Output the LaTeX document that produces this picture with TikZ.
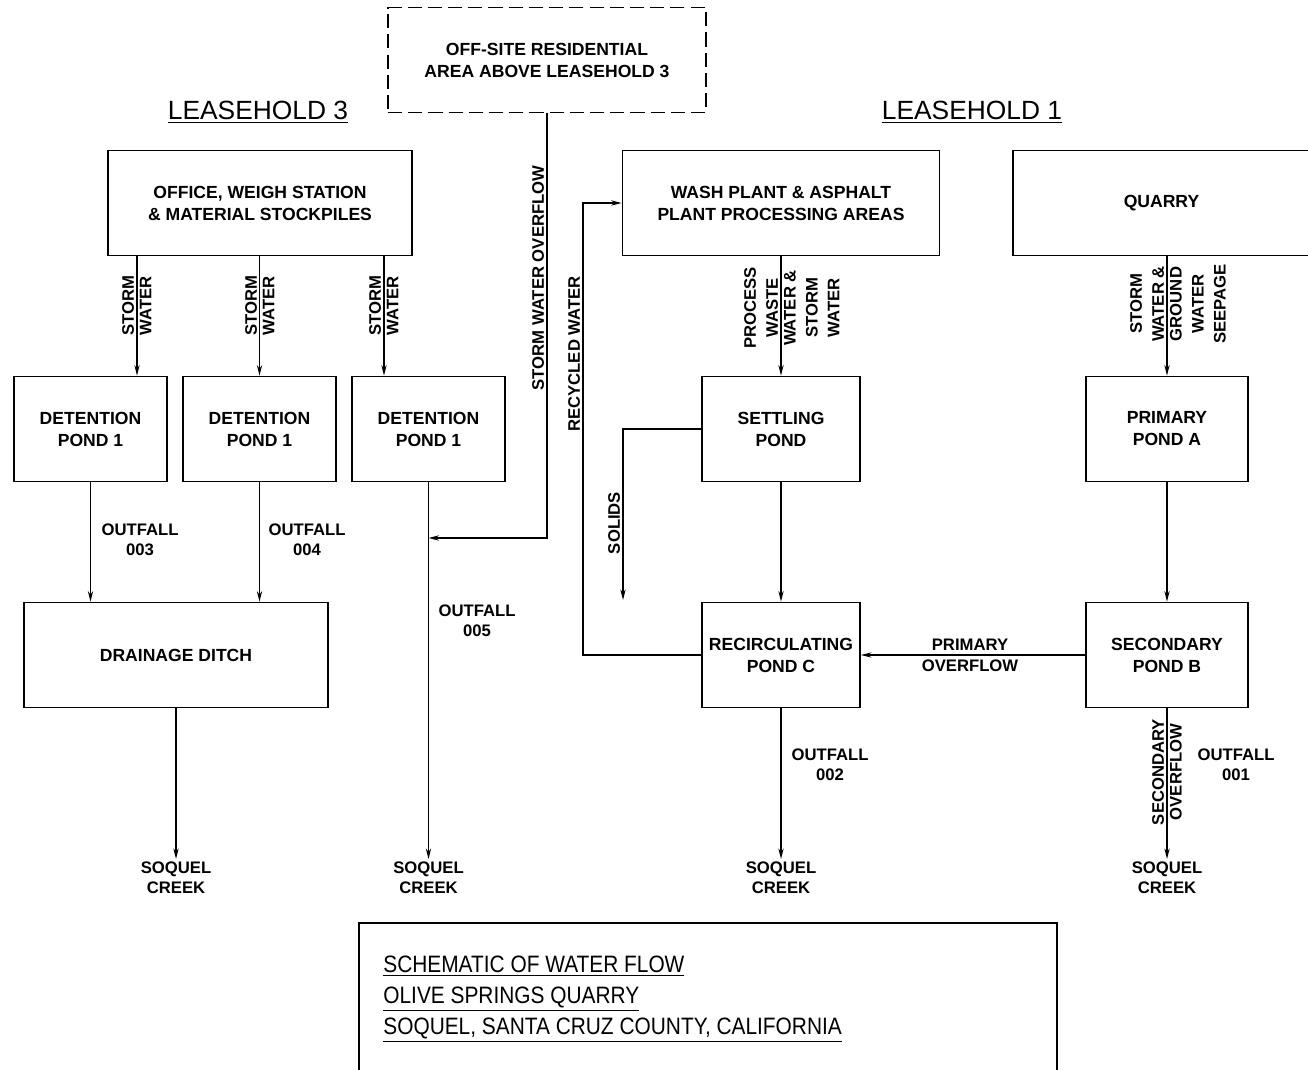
\documentclass[tikz,border=0pt]{standalone}
\usepackage{fontspec}
\setmainfont{Liberation Sans}
\newfontfamily\titlefont[FakeStretch=0.88]{Liberation Sans}
\usepackage{tikz}
\usetikzlibrary{arrows.meta,positioning,calc}

\begin{document}
\begin{tikzpicture}[
  x=0.02cm, y=-0.02cm,
  font=\bfseries\fontsize{10}{12.5}\selectfont,
  >={Stealth[length=6pt,width=3pt]},
  box/.style={draw=black, line width=1pt, align=center, inner sep=2pt,
    minimum width=#1, minimum height=2.1cm},
  offbox/.style={box=#1, dash pattern=on 8pt off 3.5pt},
  flow/.style={->, line width=0.8pt},
  lbl/.style={font=\bfseries\fontsize{9.5}{11.5}\selectfont, align=center, inner sep=1.5pt},
  grp/.style={font=\bfseries\fontsize{9.5}{12.5}\selectfont},
  lside/.style={lbl, rotate=90, anchor=south},
  rside/.style={lbl, rotate=90, anchor=north},
  head/.style={font=\fontsize{15}{18}\selectfont, inner sep=0pt}
]
  \useasboundingbox (0,0) rectangle (1308,1070);

  % top
  \node[offbox=6.36cm] (offsite) at (547,60) {OFF-SITE RESIDENTIAL\\AREA ABOVE LEASEHOLD 3};
  \node[head] (lh3) at (258,112) {\underline{LEASEHOLD 3}};
  \node[head] (lh1) at (972,112) {\underline{LEASEHOLD 1}};

  % leasehold 3 boxes
  \node[box=6.08cm] (office) at (260,203) {OFFICE, WEIGH STATION\\\& MATERIAL STOCKPILES};
  \node[box=3.06cm] (det1) at (90.5,429) {DETENTION\\POND 1};
  \node[box=3.06cm] (det2) at (259.5,429) {DETENTION\\POND 1};
  \node[box=3.06cm] (det3) at (428.5,429) {DETENTION\\POND 1};
  \node[box=6.08cm] (ditch) at (176,655) {DRAINAGE DITCH};

  % leasehold 1 boxes
  \node[box=6.34cm] (wash) at (781,203) {WASH PLANT \& ASPHALT\\PLANT PROCESSING AREAS};
  \node[box=5.94cm] (quarry) at (1161.5,203) {QUARRY};
  \node[box=3.16cm] (settle) at (781,429) {SETTLING\\POND};
  \node[box=3.24cm] (primA) at (1167,429) {PRIMARY\\POND A};
  \node[box=3.16cm] (recirc) at (781,655) {RECIRCULATING\\POND C};
  \node[box=3.24cm] (secB) at (1167,655) {SECONDARY\\POND B};

  % creeks
  \node[lbl] (creekA) at (176,878) {SOQUEL\\CREEK};
  \node[lbl] (creekB) at (428.5,878) {SOQUEL\\CREEK};
  \node[lbl] (creekC) at (781,878) {SOQUEL\\CREEK};
  \node[lbl] (creekD) at (1167,878) {SOQUEL\\CREEK};

  % leasehold 3 flows
  \coordinate (sw1) at (137,256);
  \coordinate (sw3) at (384,256);
  \coordinate (j5) at (428.5,538);
  \draw[flow] (sw1) -- (sw1 |- det1.north);
  \draw[flow] (det2.north |- office.south) -- (det2.north);
  \draw[flow] (sw3) -- (sw3 |- det3.north);
  \draw[flow] (det1.south) -- (det1.south |- ditch.north);
  \draw[flow] (det2.south) -- (det2.south |- ditch.north);
  \draw[flow] (ditch.south) -- (creekA);
  \draw[flow] (det3.south) -- (creekB);
  \draw[flow] (offsite.south) |- (j5);

  \node[lside] (sw1a) at (137,306) {STORM};
  \node[rside] (sw1b) at (137,306) {WATER};
  \node[lside] (sw2a) at (260,306) {STORM};
  \node[rside] (sw2b) at (260,306) {WATER};
  \node[lside] (sw3a) at (384,306) {STORM};
  \node[rside] (sw3b) at (384,306) {WATER};
  \node[lside] (ovfl) at (547,278) {STORM WATER OVERFLOW};
  \node[lbl] (out3) at (140,540) {OUTFALL\\003};
  \node[lbl] (out4) at (307,540) {OUTFALL\\004};
  \node[lbl] (out5) at (477,621) {OUTFALL\\005};

  % leasehold 1 flows
  \coordinate (rc) at (583,655);
  \coordinate (solids) at (623,600);
  \draw[flow] (wash) -- (settle);
  \draw[flow] (settle) -- (recirc);
  \draw[flow] (recirc) -- (creekC);
  \draw[flow] (settle.west) -| (solids);
  \draw[flow] (recirc.west) -- (rc) |- (wash.west);
  \draw[flow] (primA.north |- quarry.south) -- (primA.north);
  \draw[flow] (primA) -- (secB);
  \draw[flow] (secB) -- (recirc);
  \draw[flow] (secB) -- (creekD);

  \node[lside, grp] (pw1) at (781,308) {PROCESS\\WASTE};
  \node[rside, grp] (pw2) at (781,308) {WATER \&\\STORM\\WATER};
  \node[lside, grp] (gw1) at (1167,304) {STORM\\WATER \&};
  \node[rside, grp] (gw2) at (1167,304) {GROUND\\WATER\\SEEPAGE};
  \node[lside] (recy) at (583,354) {RECYCLED WATER};
  \node[lside] (sol) at (623,523) {SOLIDS};
  \node[lbl, anchor=south, inner sep=2.5pt] (povA) at (970,655) {PRIMARY};
  \node[lbl, anchor=north, inner sep=2.5pt] (povB) at (970,655) {OVERFLOW};
  \node[lside] (sovA) at (1167,772) {SECONDARY};
  \node[rside] (sovB) at (1167,772) {OVERFLOW};
  \node[lbl] (out2) at (830,765) {OUTFALL\\002};
  \node[lbl] (out1) at (1236,765) {OUTFALL\\001};

  % title block
  \node[draw=black, line width=1pt, anchor=north west, inner sep=0pt,
    minimum width=13.96cm, minimum height=3.2cm] (titlebox) at (358,922) {};
  \node[anchor=west, align=left, inner sep=0pt,
    font=\titlefont\fontsize{13.5}{17.5}\selectfont] (titletext) at (383,999)
    {\underline{SCHEMATIC OF WATER FLOW}\\
     \underline{OLIVE SPRINGS QUARRY}\\
     \underline{SOQUEL, SANTA CRUZ COUNTY, CALIFORNIA}};
\end{tikzpicture}
\end{document}
